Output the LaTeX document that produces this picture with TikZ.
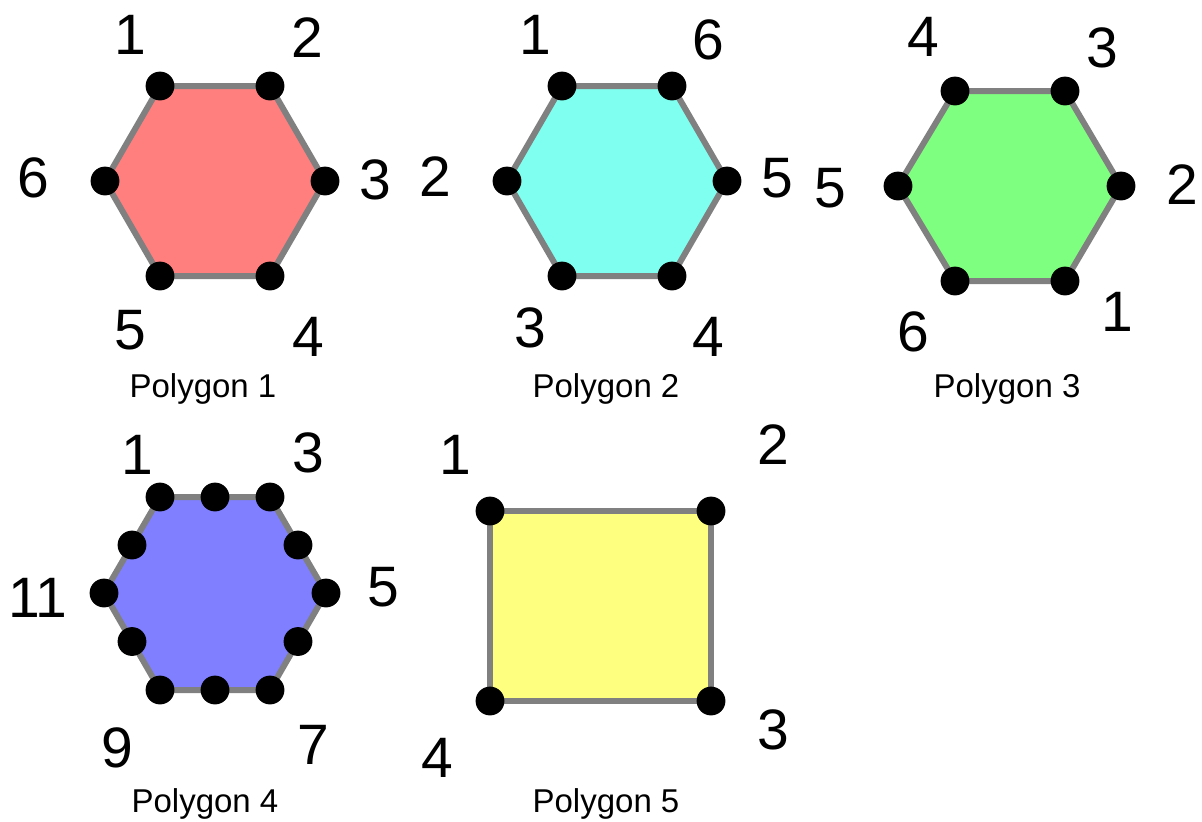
\documentclass[tikz,border=0pt]{standalone}
\usepackage{fontspec}
\setmainfont{Liberation Sans}
\usetikzlibrary{calc}
\definecolor{edgegray}{HTML}{808080}
\definecolor{polyred}{HTML}{FF7F7F}
\definecolor{polycyan}{HTML}{7FFFEF}
\definecolor{polygreen}{HTML}{7FFF7F}
\definecolor{polyblue}{HTML}{7F7FFF}
\definecolor{polyyellow}{HTML}{FFFF7F}
\tikzset{
  poly/.style={draw=edgegray, line width=3pt, line join=round},
  vnum/.style={font=\fontsize{28.5}{30}\selectfont, inner sep=0pt},
  caption/.style={font=\fontsize{16.5}{18}\selectfont, anchor=base, inner sep=0pt}
}
\newcommand{\vdot}[1]{\fill (#1) circle[radius=7.2pt];}

\begin{document}
\begin{tikzpicture}[x=0.5pt, y=-0.5pt]
  \useasboundingbox (0,0) rectangle (1202,821);

  % polygon 1
  \coordinate (a1) at (160,86);
  \coordinate (a2) at (270,86);
  \coordinate (a3) at (325,181);
  \coordinate (a4) at (270,276);
  \coordinate (a5) at (160,276);
  \coordinate (a6) at (105,181);
  \draw[poly, fill=polyred] (a1) -- (a2) -- (a3) -- (a4) -- (a5) -- (a6) -- cycle;
  \foreach \v in {a1,a2,a3,a4,a5,a6} {\vdot{\v}}
  \node[vnum] (na1) at (130,35) {1};
  \node[vnum] (na2) at (307,38) {2};
  \node[vnum] (na3) at (375,180) {3};
  \node[vnum] (na4) at (308,337) {4};
  \node[vnum] (na5) at (130,330) {5};
  \node[vnum] (na6) at (33,178) {6};
  \node[caption] (capa) at (203,397) {Polygon 1};

  % polygon 2
  \coordinate (b1) at (562,86);
  \coordinate (b2) at (507,181);
  \coordinate (b3) at (562,276);
  \coordinate (b4) at (672,276);
  \coordinate (b5) at (727,181);
  \coordinate (b6) at (672,86);
  \draw[poly, fill=polycyan] (b1) -- (b2) -- (b3) -- (b4) -- (b5) -- (b6) -- cycle;
  \foreach \v in {b1,b2,b3,b4,b5,b6} {\vdot{\v}}
  \node[vnum] (nb1) at (535,35) {1};
  \node[vnum] (nb2) at (435,177) {2};
  \node[vnum] (nb3) at (530,328) {3};
  \node[vnum] (nb4) at (708,337) {4};
  \node[vnum] (nb5) at (777,178) {5};
  \node[vnum] (nb6) at (708,40) {6};
  \node[caption] (capb) at (606,397) {Polygon 2};

  % polygon 3
  \coordinate (c1) at (1065,281);
  \coordinate (c2) at (1121,186);
  \coordinate (c3) at (1065,91);
  \coordinate (c4) at (955,91);
  \coordinate (c5) at (898,186);
  \coordinate (c6) at (955,281);
  \draw[poly, fill=polygreen] (c1) -- (c2) -- (c3) -- (c4) -- (c5) -- (c6) -- cycle;
  \foreach \v in {c1,c2,c3,c4,c5,c6} {\vdot{\v}}
  \node[vnum] (nc1) at (1117,312) {1};
  \node[vnum] (nc2) at (1182,185) {2};
  \node[vnum] (nc3) at (1102,48) {3};
  \node[vnum] (nc4) at (923,37) {4};
  \node[vnum] (nc5) at (830,188) {5};
  \node[vnum] (nc6) at (913,332) {6};
  \node[caption] (capc) at (1007,397) {Polygon 3};

  % polygon 4, corners plus edge midpoints
  \coordinate (d1) at (160,497);
  \coordinate (d3) at (270,497);
  \coordinate (d5) at (326,593);
  \coordinate (d7) at (270,690);
  \coordinate (d9) at (160,690);
  \coordinate (d11) at (104,593);
  \coordinate (d2) at ($(d1)!0.5!(d3)$);
  \coordinate (d4) at ($(d3)!0.5!(d5)$);
  \coordinate (d6) at ($(d5)!0.5!(d7)$);
  \coordinate (d8) at ($(d7)!0.5!(d9)$);
  \coordinate (d10) at ($(d9)!0.5!(d11)$);
  \coordinate (d12) at ($(d11)!0.5!(d1)$);
  \draw[poly, fill=polyblue] (d1) -- (d3) -- (d5) -- (d7) -- (d9) -- (d11) -- cycle;
  \foreach \v in {d1,d2,d3,d4,d5,d6,d7,d8,d9,d10,d11,d12} {\vdot{\v}}
  \node[vnum] (nd1) at (137,455) {1};
  \node[vnum] (nd3) at (308,453) {3};
  \node[vnum] (nd5) at (383,587) {5};
  \node[vnum] (nd7) at (313,745) {7};
  \node[vnum] (nd9) at (117,748) {9};
  \node[vnum] (nd11) at (38,598) {11};
  \node[caption] (capd) at (205,812) {Polygon 4};

  % polygon 5
  \coordinate (e1) at (490,511);
  \coordinate (e2) at (711,511);
  \coordinate (e3) at (711,701);
  \coordinate (e4) at (490,701);
  \draw[poly, fill=polyyellow] (e1) -- (e2) -- (e3) -- (e4) -- cycle;
  \foreach \v in {e1,e2,e3,e4} {\vdot{\v}}
  \node[vnum] (ne1) at (455,455) {1};
  \node[vnum] (ne2) at (773,445) {2};
  \node[vnum] (ne3) at (773,730) {3};
  \node[vnum] (ne4) at (437,758) {4};
  \node[caption] (cape) at (606,812) {Polygon 5};
\end{tikzpicture}
\end{document}
